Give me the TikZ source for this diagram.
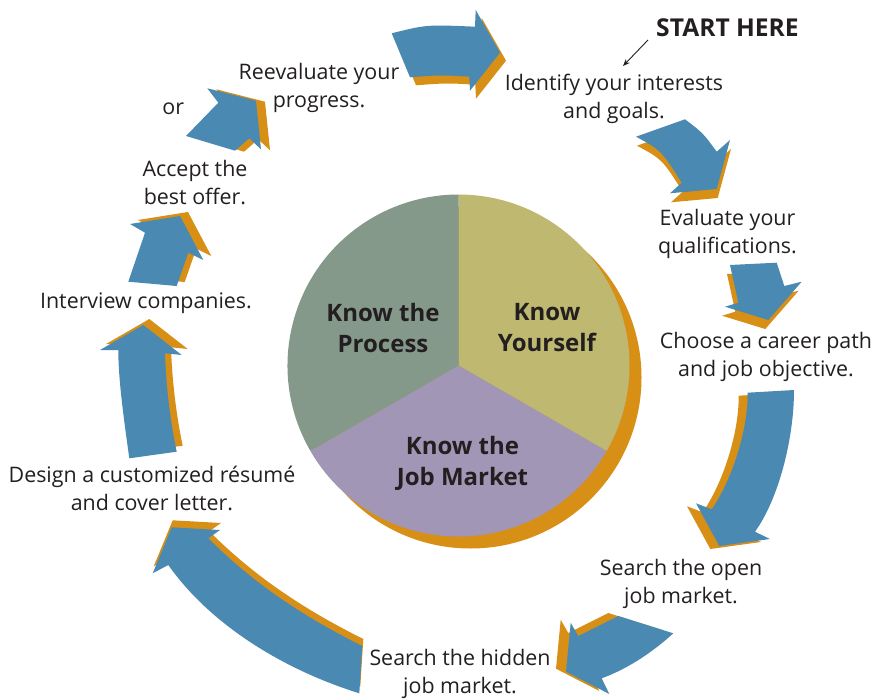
\documentclass[tikz,border=0pt]{standalone}
\usepackage{fontspec}
\setmainfont{Open Sans}
\usetikzlibrary{arrows.meta,calc}

\definecolor{flowblue}{RGB}{74,137,178}
\definecolor{flowshade}{RGB}{215,143,22}
\definecolor{pieyellow}{RGB}{190,184,112}
\definecolor{piegreen}{RGB}{133,153,139}
\definecolor{piepurple}{RGB}{161,150,182}
\definecolor{ink}{RGB}{35,31,32}

% a blue cycle arrow with its orange drop shadow: #1 shadow shift, #2 outline
\newcommand\cyclearrow[2]{%
  \fill[flowshade, shift={#1}] #2;
  \fill[flowblue] #2;}

\tikzset{
  lbl/.style={font=\fontsize{21.4}{28}\selectfont, text=ink, align=center, inner sep=0pt},
  pielbl/.style={font=\fontsize{24}{31}\selectfont\bfseries, text=ink, align=center, inner sep=0pt},
  headlbl/.style={font=\fontsize{24.6}{28}\selectfont\bfseries, text=ink, inner sep=0pt},
}

\begin{document}
\begin{tikzpicture}[x=1pt, y=-1pt]
\useasboundingbox (0,0) rectangle (874,700);

% ---- central pie ----
\coordinate (C) at (458.5,365.5);
\fill[flowshade] ($(C)+(12,12)$) circle[radius=171];
\fill[pieyellow] (C) -- ++(-90:171) arc[start angle=-90, end angle=30, radius=171] -- cycle;
\fill[piepurple] (C) -- ++(30:171) arc[start angle=30, end angle=150, radius=171] -- cycle;
\fill[piegreen] (C) -- ++(150:171) arc[start angle=150, end angle=270, radius=171] -- cycle;

\node[pielbl] (process) at (383,328) {Know the\\Process};
\node[pielbl] (yourself) at (547,328) {Know\\Yourself};
\node[pielbl] (market) at (462.5,463) {Know the\\Job Market};

% ---- cycle arrows, clockwise from the top ----
\cyclearrow{(6,8)}{(391.7,33.3) .. controls (426.65,24.6) .. (475,26.7) -- (475.7,10) -- (500,52.7)
  -- (470,90.7) -- (469.3,76.7) .. controls (440.35,75) .. (410,77.3) -- cycle}
\cyclearrow{(1,9)}{(636,136.7) -- (685,119.3) .. controls (703,133) .. (716.7,151.7) -- (730,140)
  -- (716.7,189) -- (670,193.3) -- (681.7,182.7) .. controls (661.15,150.3) .. (636,136.7) -- cycle}
\cyclearrow{(-3,9)}{(730,265) -- (776.7,262.7) -- (784.3,286) -- (801.7,281.7) -- (768.3,320)
  -- (725,306.7) -- (738.3,302.7) -- cycle}
\cyclearrow{(-9,3)}{(747.7,392.7) -- (794,390) .. controls (794,440) and (778,500) .. (755,531.7)
  -- (770,539) -- (719.3,546) -- (696,503.3) -- (711.7,509.3)
  .. controls (732,480) and (748,430) .. (747.7,392.7) -- cycle}
\cyclearrow{(-10,-3)}{(618.3,616) -- (673.3,633.3) .. controls (655,650) and (630,668) .. (601.7,678.3)
  -- (609.3,694) -- (566,671.7) -- (570.7,622.7) -- (578.3,636) -- cycle}
\cyclearrow{(1,-7)}{(362.3,646) -- (359.3,693.3) .. controls (279.3,668.3) and (208.3,622) .. (168.3,565)
  -- (152.7,573.3) -- (171.7,527.3) -- (220,530) -- (208.3,538.3)
  .. controls (253.3,583.3) and (302.3,616) .. (362.3,646) -- cycle}
\cyclearrow{(6,-6)}{(129.3,458.3) .. controls (124,420) and (118.3,380) .. (118.3,350) -- (100,350)
  -- (143.3,325) -- (181.7,355) -- (165,353.3) .. controls (166,385) and (170,420) .. (176.7,451.7) -- cycle}
\cyclearrow{(8,-4)}{(128.3,281.7) -- (176.7,286) -- (188.3,252.7) -- (203.3,260) -- (180,216)
  -- (130,224) -- (145,232.7) -- cycle}
\cyclearrow{(9,1)}{(186,136) -- (235,150.7) -- (249.3,138.3) -- (261,149.3) -- (256,100.7)
  -- (207.3,88.3) -- (218.3,102.7) -- cycle}

% ---- step labels ----
\node[headlbl] (start) at (727.5,27.7) {START HERE};
\node[lbl] (identify) at (614,99) {Identify your interests\\and goals.};
\node[lbl] (evaluate) at (727.5,234) {Evaluate your\\qualifications.};
\node[lbl] (choose) at (766,357) {Choose a career path\\and job objective.};
\node[lbl] (openmkt) at (681,584) {Search the open\\job market.};
\node[lbl] (hiddenmkt) at (460,674) {Search the hidden\\job market.};
\node[lbl] (design) at (152,488) {Design a customized résumé\\and cover letter.};
\node[lbl] (interview) at (146,303) {Interview companies.};
\node[lbl] (accept) at (195,183) {Accept the\\best offer.};
\node[lbl] (or) at (173.3,109) {or};
\node[lbl] (reevaluate) at (319,88) {Reevaluate your\\progress.};

% pointer from the start marker to the first step
\coordinate (ptrtail) at (648,40);
\coordinate (ptrhead) at (623,66);
\draw[ink, line width=0.9pt, -{Stealth[length=7pt, width=5.5pt]}] (ptrtail) -- (ptrhead);
\end{tikzpicture}
\end{document}
